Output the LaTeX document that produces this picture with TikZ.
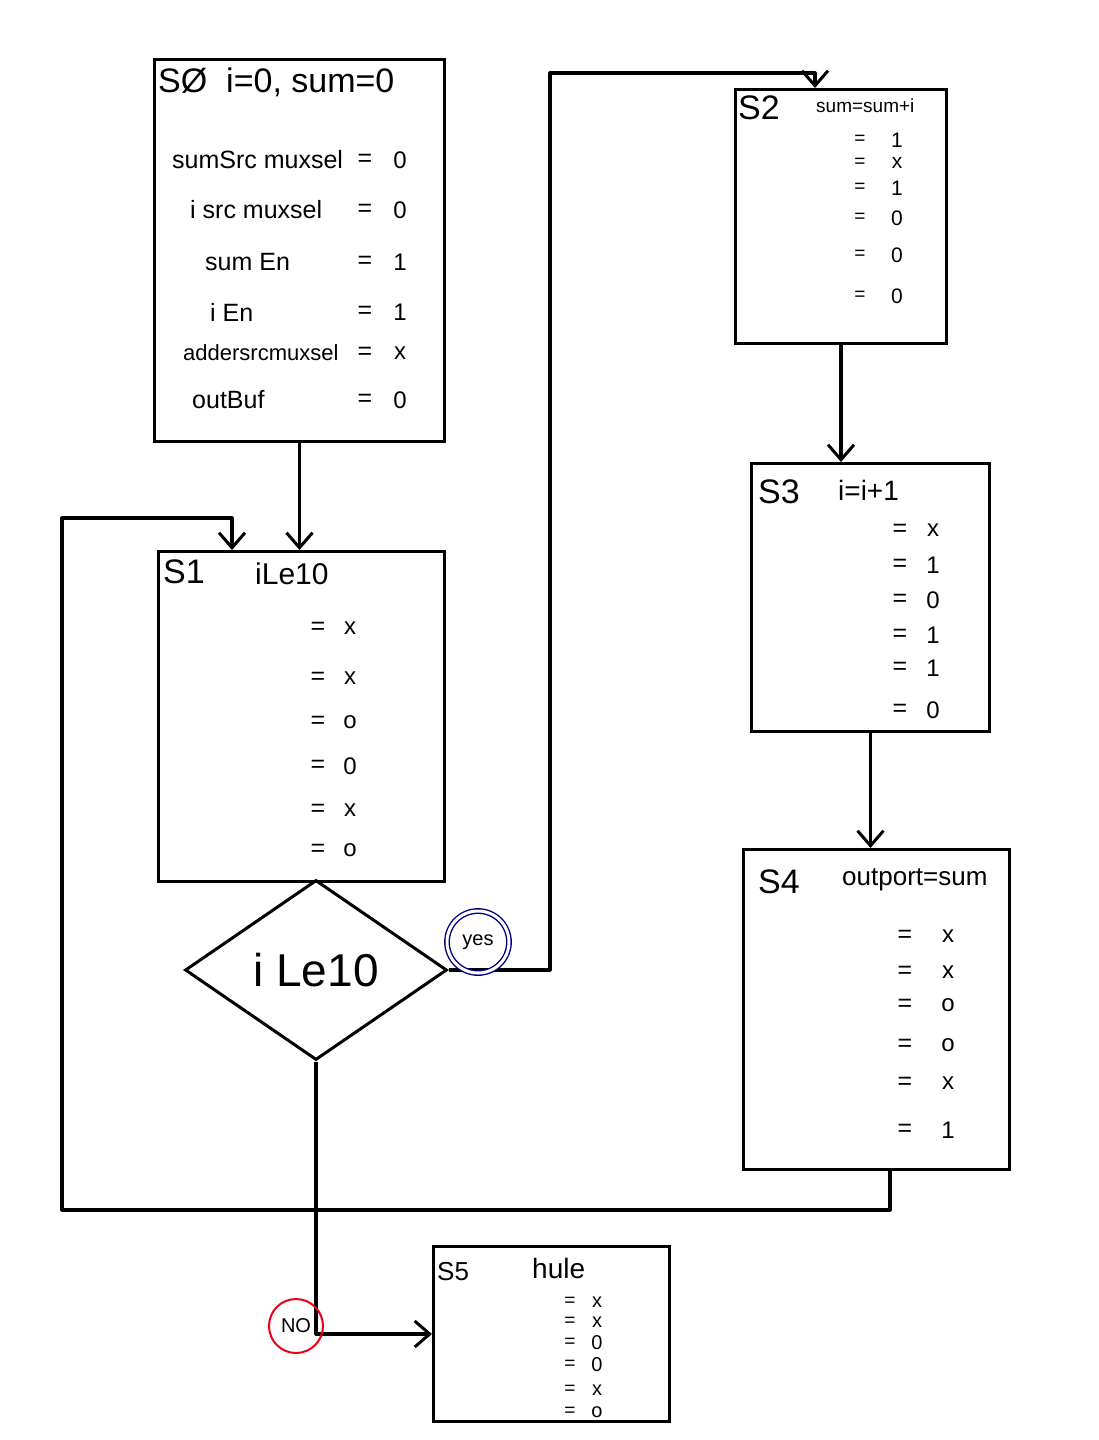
\documentclass[tikz,border=0pt]{standalone}
\usepackage{fontspec}
\setmainfont{Liberation Sans}
\usetikzlibrary{arrows.meta,shapes.geometric,calc}
\begin{document}
\begin{tikzpicture}[x=1pt,y=-1pt,
  state/.style={draw, line width=3pt, anchor=north west, inner sep=0pt},
  hdr/.style={anchor=west, inner sep=0pt, font=\fontsize{34}{36}\selectfont},
  sub/.style={anchor=west, inner sep=0pt, font=\fontsize{24}{26}\selectfont},
  lbl/.style={anchor=west, inner sep=0pt, font=\fontsize{25}{27}\selectfont},
  eq/.style={inner sep=0pt, font=\fontsize{25}{27}\selectfont},
  val/.style={inner sep=0pt, font=\fontsize{24}{26}\selectfont},
  eqs/.style={inner sep=0pt, font=\fontsize{19}{20}\selectfont},
  arr/.style={line width=3.2pt, line join=round, -{Straight Barb[length=15pt,width=26pt,line width=3pt]}},
  dec/.style={draw, diamond, aspect=1.45, line width=3pt, minimum width=262pt, minimum height=180pt, inner sep=0pt, font=\fontsize{46}{48}\selectfont},
  yesc/.style={draw=blue!50!black, circle, double, double distance=3pt, line width=1.4pt, minimum size=62pt, inner sep=0pt, font=\fontsize{20}{22}\selectfont},
  noc/.style={draw=red!70!purple, circle, line width=2pt, minimum size=54pt, inner sep=0pt, font=\fontsize{20}{22}\selectfont}
]
\useasboundingbox (0,0) rectangle (1099,1440);
\fill[white] (0,0) rectangle (1099,1440);

% ---------- S0 ----------
\node[state, minimum width=290pt, minimum height=382pt] (s0) at (153,58) {};
\node[hdr] (s0h) at (158,82) {SØ\ \ i=0, sum=0};
\node[lbl] (s0l1) at (172,160) {sumSrc muxsel};
\node[lbl] (s0l2) at (190,210) {i src muxsel};
\node[lbl] (s0l3) at (205,262) {sum En};
\node[lbl] (s0l4) at (210,312) {i En};
\node[lbl, font=\fontsize{22}{24}\selectfont] (s0l5) at (183,353) {addersrcmuxsel};
\node[lbl] (s0l6) at (192,400) {outBuf};
\foreach \y/\v [count=\i] in {160/0,210/0,262/1,312/1,353/x,400/0}{
  \node[eq] (s0e\i) at (365,\y) {=};
  \node[val] (s0v\i) at (400,\y) {\v};
}

% ---------- S1 ----------
\node[state, minimum width=286pt, minimum height=330pt] (s1) at (157,550) {};
\node[hdr] (s1h) at (163,572) {S1};
\node[sub, font=\fontsize{30}{32}\selectfont] (s1t) at (255,574) {iLe10};
\foreach \y/\v [count=\i] in {628/x,678/x,722/o,766/0,810/x,850/o}{
  \node[eq] (s1e\i) at (318,\y) {=};
  \node[val] (s1v\i) at (350,\y) {\v};
}

% ---------- Decision ----------
\node[dec] (d) at (316,970) {i Le10};

% ---------- S2 ----------
\node[state, minimum width=211pt, minimum height=254pt] (s2) at (734,88) {};
\node[hdr] (s2h) at (738,108) {S2};
\node[sub, font=\fontsize{19}{20}\selectfont] (s2t) at (816,106) {sum=sum+i};
\foreach \y/\v [count=\i] in {140/1,163/x,188/1,218/0,255/0,296/0}{
  \node[eqs] (s2e\i) at (860,\y) {=};
  \node[val, font=\fontsize{21}{22}\selectfont] (s2v\i) at (897,\y) {\v};
}

% ---------- S3 ----------
\node[state, minimum width=238pt, minimum height=268pt] (s3) at (750,462) {};
\node[hdr] (s3h) at (758,492) {S3};
\node[sub, font=\fontsize{28}{30}\selectfont] (s3t) at (838,490) {i=i+1};
\foreach \y/\v [count=\i] in {530/x,565/1,600/0,635/1,668/1,710/0}{
  \node[eq] (s3e\i) at (900,\y) {=};
  \node[val] (s3v\i) at (933,\y) {\v};
}

% ---------- S4 ----------
\node[state, minimum width=266pt, minimum height=320pt] (s4) at (742,848) {};
\node[hdr] (s4h) at (758,882) {S4};
\node[sub, font=\fontsize{26}{28}\selectfont] (s4t) at (842,880) {outport=sum};
\foreach \y/\v [count=\i] in {936/x,972/x,1005/o,1045/o,1083/x,1130/1}{
  \node[eq] (s4e\i) at (905,\y) {=};
  \node[val] (s4v\i) at (948,\y) {\v};
}

% ---------- S5 ----------
\node[state, minimum width=236pt, minimum height=175pt] (s5) at (432,1245) {};
\node[sub, font=\fontsize{26}{28}\selectfont] (s5h) at (437,1272) {S5};
\node[sub, font=\fontsize{28}{30}\selectfont] (s5t) at (532,1268) {hule};
\foreach \y/\v [count=\i] in {1302/x,1322/x,1343/0,1365/0,1390/x,1412/o}{
  \node[eqs] (s5e\i) at (570,\y) {=};
  \node[val, font=\fontsize{20}{21}\selectfont] (s5v\i) at (597,\y) {\v};
}

% ---------- connectors ----------
\draw[arr] (s0.south) -- (s0.south |- s1.north);
\draw[arr] (s2.south) -- (s2.south |- s3.north);
\draw[arr] (s3.south) -- (s3.south |- s4.north);

% yes branch
\coordinate (ytop) at (550,73);
\coordinate (s2in) at (815,73);
\draw[arr] (d.east) -| (ytop) -- (s2in) -- (s2in |- s2.north);

% no branch
\coordinate (nocorner) at (d.south |- s5.west);
\draw[arr] (d.south) -- (nocorner) -- (s5.west);

% loop back from S4 to S1
\coordinate (l1) at (890,1210);
\coordinate (l2) at (62,1210);
\coordinate (l3) at (62,518);
\coordinate (l4) at (232,518);
\draw[arr] (s4.south -| l1) -- (l1) -- (l2) -- (l3) -- (l4) -- (l4 |- s1.north);

% branch labels
\node[yesc] (yes) at (478,942) {yes};
\node[noc] (no) at (296,1326) {NO};
\end{tikzpicture}
\end{document}
